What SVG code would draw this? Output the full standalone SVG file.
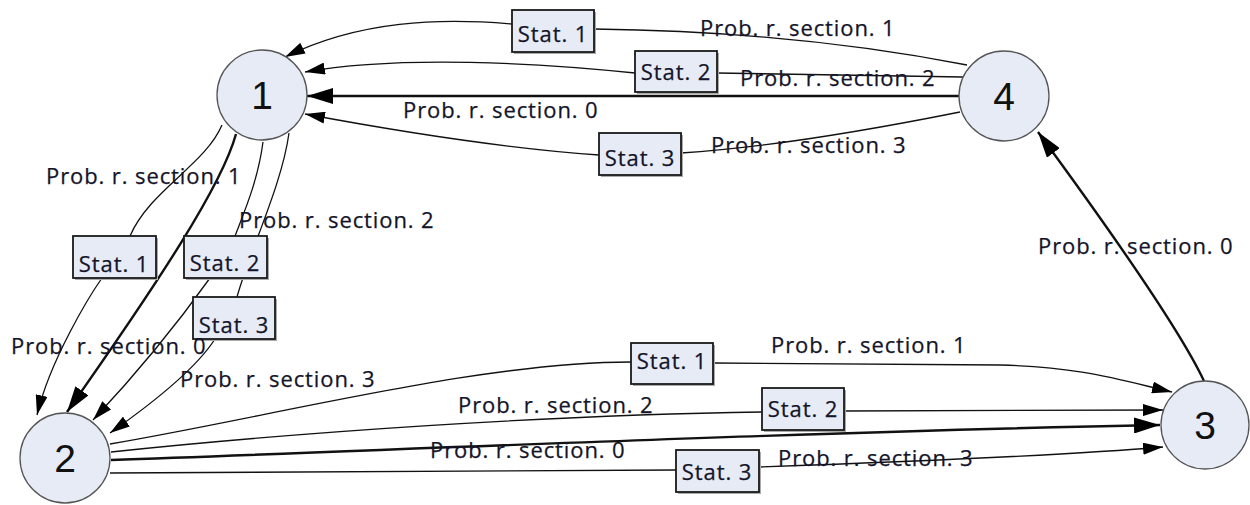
<svg xmlns="http://www.w3.org/2000/svg" width="1250" height="505" viewBox="0 0 1250 505">
<defs>
<style>
.e{fill:none;stroke:#111;stroke-width:1.3}
.t{fill:none;stroke:#111;stroke-width:2.4}
.lb{font-family:"Open Sans","Noto Sans",sans-serif;font-size:22px;letter-spacing:0.9px;fill:#14142a;stroke:#14142a;stroke-width:0.25}
.bx{fill:#e6ebf5;stroke:#1a1a1a;stroke-width:1.8}
.sh{fill:#aaa}
.st{font-family:"Open Sans","Noto Sans",sans-serif;font-size:22px;letter-spacing:0.9px;fill:#14142a;stroke:#14142a;stroke-width:0.25;text-anchor:middle}
.nd{fill:#e6ebf6;stroke:#555;stroke-width:1.3}
.nt{font-family:"Liberation Sans",Arial,sans-serif;font-size:39px;fill:#111;text-anchor:middle}
</style>
<marker id="a" viewBox="0 0 20 12" refX="20" refY="6" markerWidth="20" markerHeight="12" markerUnits="userSpaceOnUse" orient="auto"><path d="M0,0 L20,6 L0,12 z" fill="#000"/></marker>
<marker id="b" viewBox="0 0 26 16" refX="26" refY="8" markerWidth="26" markerHeight="16" markerUnits="userSpaceOnUse" orient="auto"><path d="M0,0 L26,8 L0,16 z" fill="#000"/></marker>
</defs>
<rect width="1250" height="505" fill="#fff"/>
<g id="connectors">
<!-- 4 -> 1 -->
<path class="e" d="M967,65 C880,48 760,31 594,29"/>
<path class="e" d="M512,24 C440,18 360,20 285,57" marker-end="url(#a)"/>
<path class="e" d="M963,77 L717,73"/>
<path class="e" d="M635,73 C540,63 400,55 305,72" marker-end="url(#a)"/>
<path class="t" d="M959,96 L307,96" marker-end="url(#b)"/>
<path class="e" d="M960,112 C860,132 760,148 681,153"/>
<path class="e" d="M599,155 C500,148 380,128 305,114" marker-end="url(#a)"/>
<!-- 1 -> 2 -->
<path class="e" d="M222,125 C205,165 150,190 130,236"/>
<path class="e" d="M102,278 C90,295 50,360 37,415" marker-end="url(#a)"/>
<path class="t" d="M236,134 C222,185 160,280 67,412" marker-end="url(#b)"/>
<path class="e" d="M263,142 C258,180 245,210 235,236"/>
<path class="e" d="M210,278 C180,320 140,370 93,420" marker-end="url(#a)"/>
<path class="e" d="M289,133 C282,185 250,250 237,297"/>
<path class="e" d="M215,339 C195,370 150,405 110,433" marker-end="url(#a)"/>
<!-- 2 -> 3 -->
<path class="e" d="M110,444 C280,415 480,362 631,362"/>
<path class="e" d="M713,363 L1000,365 C1080,367 1120,380 1172,392" marker-end="url(#a)"/>
<path class="e" d="M111,452 C300,432 550,415 762,412"/>
<path class="e" d="M844,411 L1163,410" marker-end="url(#a)"/>
<path class="t" d="M111,460 C400,450 800,432 1160,425" marker-end="url(#b)"/>
<path class="e" d="M110,473 L676,470"/>
<path class="e" d="M759,467 C900,462 1060,456 1163,447" marker-end="url(#a)"/>
<!-- 3 -> 4 -->
<path class="t" d="M1204,381 C1180,330 1110,230 1038,132" marker-end="url(#b)"/>

<!-- stat boxes -->
<g id="s41a"><rect class="sh" x="514" y="12" width="82" height="42"/><rect class="bx" x="512" y="10" width="82" height="42"/><text class="st" x="553" y="42">Stat. 1</text></g>
<g id="s41b"><rect class="sh" x="637" y="53" width="82" height="41"/><rect class="bx" x="635" y="51" width="82" height="41"/><text class="st" x="676" y="80">Stat. 2</text></g>
<g id="s41c"><rect class="sh" x="601" y="135" width="82" height="42"/><rect class="bx" x="599" y="133" width="82" height="42"/><text class="st" x="640" y="166">Stat. 3</text></g>
<g id="s12a"><rect class="sh" x="75" y="238" width="83" height="42"/><rect class="bx" x="73" y="236" width="83" height="42"/><text class="st" x="114" y="272">Stat. 1</text></g>
<g id="s12b"><rect class="sh" x="186" y="238" width="83" height="42"/><rect class="bx" x="184" y="236" width="83" height="42"/><text class="st" x="225" y="271">Stat. 2</text></g>
<g id="s12c"><rect class="sh" x="195" y="299" width="82" height="42"/><rect class="bx" x="193" y="297" width="82" height="42"/><text class="st" x="234" y="333">Stat. 3</text></g>
<g id="s23a"><rect class="sh" x="633" y="345" width="82" height="41"/><rect class="bx" x="631" y="343" width="82" height="41"/><text class="st" x="672" y="369">Stat. 1</text></g>
<g id="s23b"><rect class="sh" x="764" y="390" width="82" height="42"/><rect class="bx" x="762" y="388" width="82" height="42"/><text class="st" x="803" y="417">Stat. 2</text></g>
<g id="s23c"><rect class="sh" x="678" y="452" width="83" height="42"/><rect class="bx" x="676" y="450" width="83" height="42"/><text class="st" x="717" y="480">Stat. 3</text></g>

<!-- probability labels -->
<text class="lb" x="700" y="36">Prob. r. section. 1</text>
<text class="lb" x="740" y="86">Prob. r. section. 2</text>
<text class="lb" x="403" y="118">Prob. r. section. 0</text>
<text class="lb" x="711" y="153">Prob. r. section. 3</text>
<text class="lb" x="46" y="184">Prob. r. section. 1</text>
<text class="lb" x="239" y="228">Prob. r. section. 2</text>
<text class="lb" x="11" y="354">Prob. r. section. 0</text>
<text class="lb" x="180" y="387">Prob. r. section. 3</text>
<text class="lb" x="771" y="353">Prob. r. section. 1</text>
<text class="lb" x="458" y="413">Prob. r. section. 2</text>
<text class="lb" x="430" y="458">Prob. r. section. 0</text>
<text class="lb" x="778" y="466">Prob. r. section. 3</text>
<text class="lb" x="1038" y="254">Prob. r. section. 0</text>
</g>
<g id="node1"><circle class="nd" cx="262" cy="95" r="45"/><text class="nt" x="262" y="109">1</text></g>
<g id="node2"><circle class="nd" cx="65" cy="458" r="45"/><text class="nt" x="65" y="472">2</text></g>
<g id="node3"><circle class="nd" cx="1205" cy="425" r="44"/><text class="nt" x="1205" y="439">3</text></g>
<g id="node4"><circle class="nd" cx="1004" cy="96" r="45"/><text class="nt" x="1004" y="110">4</text></g>
</svg>
